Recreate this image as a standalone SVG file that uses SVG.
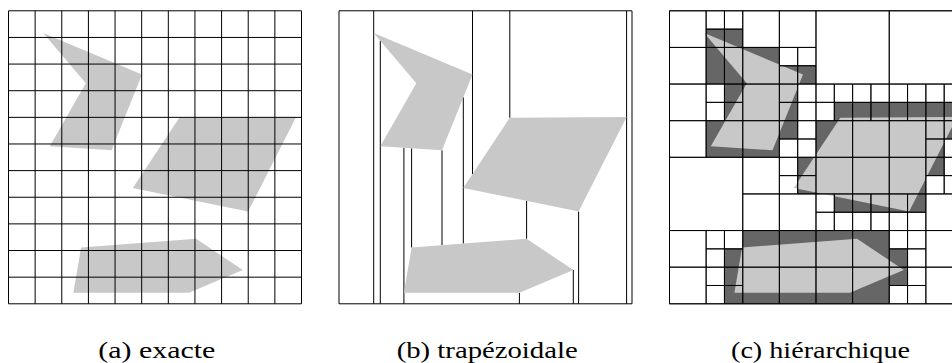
<svg xmlns="http://www.w3.org/2000/svg" width="952" height="363" viewBox="0 0 952 363">
<style>
.poly{fill:#c8c8c8;stroke:none}
.dark{fill:#666666;stroke:none}
.ln{fill:none;stroke:#000;stroke-width:1}
.qt{fill:none;stroke:#000;stroke-width:0.9}
.cap{font-family:"Liberation Serif","Times New Roman",serif;font-size:23px;fill:#000}
</style>
<defs>
<g id="shapes">
<polygon class="poly" points="34.7,22.2 133.5,63.7 103,139.5 41.3,135.4 77.3,72.5"/>
<polygon class="poly" points="170.8,107 287.6,106.2 239.6,200.7 124.3,177.1"/>
<polygon class="poly" points="72.6,236.7 187.6,228 234.3,259.2 180.4,282 64.9,282"/>
</g>
</defs>
<rect x="0" y="0" width="952" height="363" fill="#fff"/>

<g id="panel-a" transform="translate(8.5,10.8)">
<use href="#shapes"/>
<path class="ln" d="M0,0H293V293H0Z M26.64,0V293 M53.27,0V293 M79.91,0V293 M106.55,0V293 M133.18,0V293 M159.82,0V293 M186.45,0V293 M213.09,0V293 M239.73,0V293 M266.36,0V293 M0,26.64H293 M0,53.27H293 M0,79.91H293 M0,106.55H293 M0,133.18H293 M0,159.82H293 M0,186.45H293 M0,213.09H293 M0,239.73H293 M0,266.36H293"/>
</g>

<g id="panel-b" transform="translate(339,10.8)">
<path class="ln" d="M0,0H293V293H0Z M34.7,0V293 M41.3,30V293 M64.9,137V293 M72.6,137.5V236.7 M103,139.5V234.4 M124.3,86.6V232.8 M133.5,0V163.2 M170.8,0V107 M187.6,190.1V228 M180.4,282V293 M234.3,259.2V293 M239.6,200.7V293 M287.6,0V293"/>
<use href="#shapes"/>
</g>

<g id="panel-c" transform="translate(669.5,10.8)">
<g transform="scale(18.3125)">
<path class="dark" d="M2,1h2v1h-2z M2,2h2v2h-2z M4,2h2v2h-2z M6,3h2v1h-2z M3,4h1v2h-1z M2,6h2v2h-2z M4,4h2v2h-2z M6,4h1v2h-1z M4,6h2v2h-2z M6,6h1v1h-1z
M9,5h7v1h-7z M8,6h6v2h-6z M14,6h2v1h-2z M14,7h1v1h-1z
M7,8h1v2h-1z M3,13h1v3h-1z M4,12h4v4h-4z
M8,8h6v2h-6z M14,8h1v1h-1z M9,10h5v1h-5z M8,12h4v4h-4z M12,13h1v2h-1z"/>
</g>
<use href="#shapes"/>
<g transform="scale(18.3125)">
<path class="qt" vector-effect="non-scaling-stroke" d="M0,0h16v16h-16z
M0,0h2v2h-2z M2,0h1v1h-1z M3,0h1v1h-1z M2,1h1v1h-1z M3,1h1v1h-1z M0,2h2v2h-2z M2,2h1v2h-1z M3,2h1v2h-1z
M4,0h2v2h-2z M6,0h2v2h-2z M4,2h2v2h-2z M6,2h1v1h-1z M7,2h1v1h-1z M6,3h1v1h-1z M7,3h1v1h-1z
M0,4h2v2h-2z M2,4h1v1h-1z M3,4h1v1h-1z M2,5h1v1h-1z M3,5h1v1h-1z M0,6h2v2h-2z M2,6h2v2h-2z
M4,4h2v2h-2z M6,4h1v1h-1z M7,4h1v1h-1z M6,5h1v1h-1z M7,5h1v1h-1z M4,6h2v2h-2z M6,6h1v1h-1z M7,6h1v1h-1z M6,7h1v1h-1z M7,7h1v1h-1z
M8,0h4v4h-4z M12,0h4v4h-4z
M8,4h1v1h-1z M9,4h1v1h-1z M8,5h1v1h-1z M9,5h1v1h-1z M10,4h1v1h-1z M11,4h1v1h-1z M10,5h1v1h-1z M11,5h1v1h-1z M8,6h2v2h-2z M10,6h2v2h-2z
M12,4h1v1h-1z M13,4h1v1h-1z M12,5h1v1h-1z M13,5h1v1h-1z M14,4h1v1h-1z M15,4h1v1h-1z M14,5h1v1h-1z M15,5h1v1h-1z M12,6h2v2h-2z M14,6h1v1h-1z M15,6h1v1h-1z M14,7h1v1h-1z M15,7h1v1h-1z
M0,8h4v4h-4z M4,8h2v2h-2z M6,8h1v1h-1z M7,8h1v1h-1z M6,9h1v1h-1z M7,9h1v1h-1z M4,10h2v2h-2z M6,10h2v2h-2z
M0,12h2v2h-2z M2,12h1v1h-1z M3,12h1v1h-1z M2,13h1v1h-1z M3,13h1v1h-1z M0,14h2v2h-2z M2,14h1v1h-1z M3,14h1v1h-1z M2,15h1v1h-1z M3,15h1v1h-1z
M4,12h2v2h-2z M6,12h2v2h-2z M4,14h2v2h-2z M6,14h2v2h-2z
M8,8h2v2h-2z M10,8h2v2h-2z M8,10h1v1h-1z M9,10h1v1h-1z M8,11h1v1h-1z M9,11h1v1h-1z M10,10h1v1h-1z M11,10h1v1h-1z M10,11h1v1h-1z M11,11h1v1h-1z
M12,8h2v2h-2z M14,8h1v1h-1z M15,8h1v1h-1z M14,9h1v1h-1z M15,9h1v1h-1z M12,10h1v1h-1z M13,10h1v1h-1z M12,11h1v1h-1z M13,11h1v1h-1z M14,10h2v2h-2z
M8,12h2v2h-2z M10,12h2v2h-2z M8,14h2v2h-2z M10,14h2v2h-2z
M12,12h1v1h-1z M13,12h1v1h-1z M12,13h1v1h-1z M13,13h1v1h-1z M14,12h2v2h-2z M12,14h1v1h-1z M13,14h1v1h-1z M12,15h1v1h-1z M13,15h1v1h-1z M14,14h2v2h-2z"/>
</g>
</g>

<g id="captions">
<text class="cap" x="98.3" y="357.5" textLength="117" lengthAdjust="spacingAndGlyphs">(a)  exacte</text>
<text class="cap" x="396.7" y="357.5" textLength="181" lengthAdjust="spacingAndGlyphs">(b)  trapézoidale</text>
<text class="cap" x="731" y="357.5" textLength="179" lengthAdjust="spacingAndGlyphs">(c)  hiérarchique</text>
</g>
</svg>
